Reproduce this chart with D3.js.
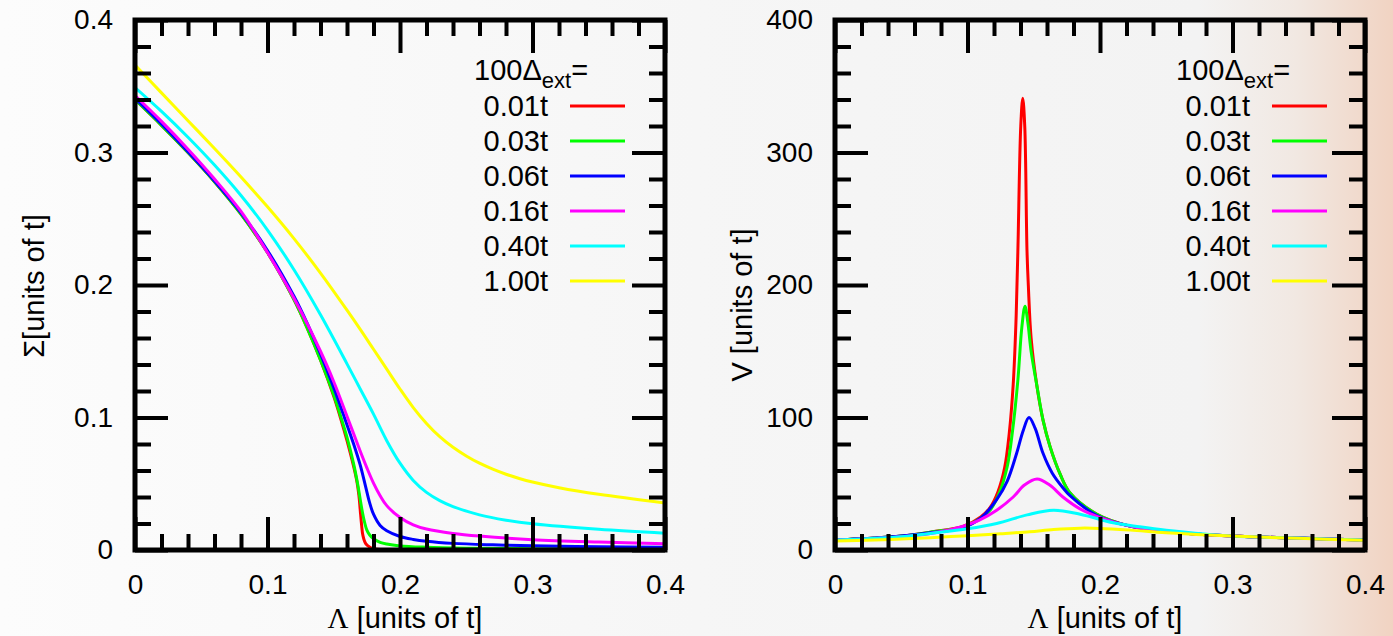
<!DOCTYPE html>
<html>
<head>
<meta charset="utf-8">
<script src="https://cdn.jsdelivr.net/npm/d3@7"></script>
<style>
  body { margin: 0; overflow: hidden; }
  text { font-family: "Liberation Sans", Arial, sans-serif; fill: #000; }
</style>
</head>
<body>
<div id="chart"></div>
<script>
// Legend entries and colours (100*Delta_ext)
var deltaLabels = ["0.01t", "0.03t", "0.06t", "0.16t", "0.40t", "1.00t"];
var lineColors = ["#ff0000", "#00ff00", "#0000ff", "#ff00ff", "#00ffff", "#ffff00"];

// Tick values
var xMajorTicks = [0, 0.1, 0.2, 0.3, 0.4];
var xMinorTicks = [0.02, 0.04, 0.06, 0.08, 0.12, 0.14, 0.16, 0.18, 0.22, 0.24, 0.26, 0.28, 0.32, 0.34, 0.36, 0.38];
var sigmaMajorTicks = [0, 0.1, 0.2, 0.3, 0.4];
var sigmaMinorTicks = [0.02, 0.04, 0.06, 0.08, 0.12, 0.14, 0.16, 0.18, 0.22, 0.24, 0.26, 0.28, 0.32, 0.34, 0.36, 0.38];
var vMajorTicks = [0, 100, 200, 300, 400];
var vMinorTicks = [20, 40, 60, 80, 120, 140, 160, 180, 220, 240, 260, 280, 320, 340, 360, 380];

// Left panel: Sigma vs Lambda, [Lambda, Sigma]
var sigmaRed = [[0,0.340],[0.02,0.3205],[0.04,0.300],[0.06,0.278],[0.08,0.2535],[0.10,0.2245],[0.12,0.189],[0.13,0.1675],[0.14,0.1435],[0.15,0.116],[0.155,0.100],[0.16,0.0825],[0.165,0.063],[0.1675,0.0515],[0.169,0.041],[0.170,0.030],[0.171,0.019],[0.172,0.011],[0.174,0.005],[0.177,0.0022],[0.18,0.0009],[0.19,0.0002],[0.2,0],[0.4,0]];
var sigmaGreen = [[0,0.340],[0.02,0.3205],[0.04,0.300],[0.06,0.278],[0.08,0.2535],[0.10,0.2245],[0.12,0.189],[0.13,0.1675],[0.14,0.1435],[0.15,0.117],[0.155,0.1015],[0.16,0.085],[0.165,0.065],[0.168,0.050],[0.171,0.032],[0.173,0.022],[0.175,0.015],[0.177,0.0115],[0.18,0.0085],[0.185,0.0058],[0.19,0.0045],[0.2,0.0031],[0.22,0.0021],[0.25,0.0014],[0.3,0.0009],[0.4,0.0005]];
var sigmaBlue = [[0,0.341],[0.02,0.3215],[0.04,0.3005],[0.06,0.2785],[0.08,0.2545],[0.10,0.226],[0.12,0.1915],[0.13,0.171],[0.14,0.148],[0.15,0.1225],[0.157,0.103],[0.165,0.080],[0.17,0.064],[0.174,0.048],[0.177,0.036],[0.18,0.027],[0.185,0.0185],[0.19,0.0145],[0.2,0.0102],[0.21,0.008],[0.22,0.0066],[0.24,0.005],[0.27,0.0039],[0.3,0.0032],[0.35,0.0025],[0.4,0.002]];
var sigmaMagenta = [[0,0.343],[0.02,0.3235],[0.04,0.3025],[0.06,0.280],[0.08,0.2555],[0.10,0.2245],[0.12,0.190],[0.14,0.150],[0.15,0.127],[0.16,0.101],[0.17,0.0745],[0.175,0.062],[0.18,0.0505],[0.185,0.041],[0.19,0.0335],[0.2,0.0245],[0.21,0.019],[0.22,0.0158],[0.24,0.0125],[0.26,0.0105],[0.3,0.0078],[0.35,0.006],[0.4,0.0047]];
var sigmaCyan = [[0,0.349],[0.02,0.331],[0.04,0.3115],[0.06,0.2905],[0.08,0.2675],[0.10,0.2415],[0.12,0.2115],[0.14,0.1775],[0.16,0.1405],[0.17,0.1215],[0.18,0.1025],[0.19,0.0825],[0.2,0.0655],[0.21,0.0525],[0.22,0.0435],[0.23,0.0373],[0.24,0.0328],[0.26,0.0265],[0.28,0.0225],[0.3,0.0198],[0.35,0.0156],[0.4,0.0127]];
var sigmaYellow = [[0,0.366],[0.02,0.345],[0.04,0.324],[0.06,0.303],[0.08,0.2815],[0.10,0.259],[0.12,0.235],[0.14,0.209],[0.16,0.181],[0.17,0.1665],[0.18,0.1515],[0.19,0.1365],[0.20,0.1215],[0.21,0.1075],[0.22,0.0955],[0.23,0.0855],[0.24,0.0775],[0.25,0.071],[0.26,0.0655],[0.27,0.061],[0.28,0.0572],[0.29,0.054],[0.30,0.0513],[0.32,0.047],[0.35,0.042],[0.4,0.0355]];

// Right panel: V vs Lambda, [Lambda, V]
var vRed = [[0,7.5],[0.03,9],[0.05,10.5],[0.072,13.5],[0.097,18],[0.11,25],[0.117,32],[0.123,44],[0.128,62],[0.1315,88],[0.1345,125],[0.1365,170],[0.138,225],[0.1402,320],[0.1417,341],[0.1432,320],[0.1449,226],[0.1459,200],[0.148,160],[0.1522,125],[0.157,98],[0.1623,78],[0.17,57],[0.1774,43],[0.1977,27],[0.2226,18],[0.25,14],[0.3,10.5],[0.35,9],[0.4,7.5]];
var vGreen = [[0,7.5],[0.03,9],[0.05,10.5],[0.072,13.5],[0.097,17.5],[0.11,24],[0.117,30],[0.124,43],[0.13,63],[0.134,90],[0.138,128],[0.141,168],[0.1434,184],[0.1455,172],[0.148,150],[0.1522,125],[0.157,98],[0.1623,78],[0.17,57],[0.1774,43],[0.1977,27],[0.2226,18],[0.25,14],[0.3,10.5],[0.35,9],[0.4,7.5]];
var vBlue = [[0,7.5],[0.03,9],[0.05,10.5],[0.072,13],[0.097,17],[0.11,24],[0.122,38],[0.13,52],[0.1371,73],[0.142,90],[0.1464,100],[0.151,92],[0.157,73],[0.164,58],[0.172,47],[0.1774,41],[0.1977,26],[0.2226,18],[0.25,14],[0.3,10.5],[0.35,9],[0.4,7.5]];
var vMagenta = [[0,7.5],[0.03,8.8],[0.05,10],[0.072,12.5],[0.09,16],[0.109,22.6],[0.122,30],[0.1345,40],[0.143,49],[0.1525,53.6],[0.162,49],[0.172,40],[0.185,31],[0.2,24.5],[0.2226,18],[0.25,14],[0.3,10.5],[0.35,9],[0.4,7.5]];
var vCyan = [[0,7.5],[0.03,8.8],[0.05,10],[0.0717,12.5],[0.1,16],[0.122,20],[0.145,26.5],[0.1648,30],[0.185,27],[0.21,20.5],[0.23,17.5],[0.25,15],[0.3,10.5],[0.35,9],[0.4,7.5]];
var vYellow = [[0,6.8],[0.03,7.6],[0.05,8.3],[0.0717,9.3],[0.1,10.8],[0.125,12.3],[0.147,13.8],[0.165,15.5],[0.185,16.5],[0.2,16.3],[0.223,15],[0.25,13],[0.3,10.5],[0.35,8.8],[0.4,7.3]];

var sigmaSeries = [sigmaRed, sigmaGreen, sigmaBlue, sigmaMagenta, sigmaCyan, sigmaYellow];
var vSeries = [vRed, vGreen, vBlue, vMagenta, vCyan, vYellow];

// SVG dimensions
var svgWidth = 1393;
var svgHeight = 636;

var svg = d3.select("#chart")
  .append("svg")
  .attr("width", svgWidth)
  .attr("height", svgHeight);

// background gradient (grey going to peach on the right)
var defs = svg.append("defs");
var grad = defs.append("linearGradient")
  .attr("id", "bg")
  .attr("x1", "0%").attr("x2", "100%")
  .attr("y1", "0%").attr("y2", "0%");
[[0, "#fcfcfc"], [0.5, "#f6f6f6"], [0.86, "#f3f3f3"], [0.93, "#f1e8e2"], [1, "#f1d3c2"]].forEach(function(s) {
  grad.append("stop").attr("offset", s[0]).attr("stop-color", s[1]);
});
svg.append("rect")
  .attr("width", svgWidth)
  .attr("height", svgHeight)
  .attr("fill", "url(#bg)");

var plotSize = 530;

function drawPanel(opts) {
  var g = svg.append("g")
    .attr("transform", `translate(${opts.left}, 20)`);

  var xScale = d3.scaleLinear().domain([0, 0.4]).range([0, plotSize]);
  var yScale = d3.scaleLinear().domain(opts.yDomain).range([plotSize, 0]);

  defs.append("clipPath")
    .attr("id", opts.id)
    .append("rect")
    .attr("width", plotSize)
    .attr("height", plotSize);

  // curves
  var line = d3.line()
    .x(d => xScale(d[0]))
    .y(d => yScale(d[1]))
    .curve(d3.curveCatmullRom.alpha(0.5));

  g.append("g")
    .attr("clip-path", `url(#${opts.id})`)
    .selectAll("path")
    .data(opts.series)
    .enter()
    .append("path")
    .attr("d", d => line(d))
    .attr("fill", "none")
    .attr("stroke", (d, i) => lineColors[i])
    .attr("stroke-width", 3);

  var fmt = d3.format("~g");

  // major/minor ticks on all four sides
  var axes = [
    [d3.axisBottom, `translate(0, ${plotSize})`, xScale, xMajorTicks, xMinorTicks, true],
    [d3.axisTop, "translate(0, 0)", xScale, xMajorTicks, xMinorTicks, false],
    [d3.axisLeft, "translate(0, 0)", yScale, opts.yMajor, opts.yMinor, true],
    [d3.axisRight, `translate(${plotSize}, 0)`, yScale, opts.yMajor, opts.yMinor, false]
  ];
  axes.forEach(function(a, k) {
    var isX = k < 2;
    var major = a[0](a[2]).tickValues(a[3]).tickSizeInner(-33).tickSizeOuter(0)
      .tickPadding(isX ? 24 : 22)
      .tickFormat(a[5] ? fmt : "");
    var ag = g.append("g").attr("transform", a[1]).call(major);
    ag.select(".domain").remove();
    ag.selectAll("line").attr("stroke", "#000").attr("stroke-width", 4);
    ag.selectAll("text").attr("font-size", 28).attr("font-family", "Liberation Sans, Arial, sans-serif");

    var minorAxis = a[0](a[2]).tickValues(a[4]).tickSizeInner(-16).tickSizeOuter(0).tickFormat("");
    var mg = g.append("g").attr("transform", a[1]).call(minorAxis);
    mg.select(".domain").remove();
    mg.selectAll("line").attr("stroke", "#000").attr("stroke-width", 4);
  });

  // frame
  g.append("rect")
    .attr("width", plotSize)
    .attr("height", plotSize)
    .attr("fill", "none")
    .attr("stroke", "#000")
    .attr("stroke-width", 5);

  // x axis label
  var xl = g.append("text")
    .attr("x", plotSize / 2 + 5)
    .attr("y", plotSize + 78)
    .attr("text-anchor", "middle")
    .attr("font-size", 29);
  xl.append("tspan").attr("font-family", "Liberation Serif, Times New Roman, serif").text("Λ");
  xl.append("tspan").text(" [units of t]");

  // y axis label
  g.append("text")
    .attr("transform", `translate(${opts.yLabelX}, ${opts.yLabelY}) rotate(-90)`)
    .attr("text-anchor", "middle")
    .attr("font-size", 29)
    .text(opts.yLabel);

  // legend
  var lg = g.append("g").attr("transform", `translate(${opts.legendX}, 0)`);
  var title = lg.append("text")
    .attr("x", -74)
    .attr("y", 60)
    .attr("font-size", 29);
  title.append("tspan").text("100Δ");
  title.append("tspan").attr("font-size", 22).attr("dy", 8).text("ext");
  title.append("tspan").attr("dy", -8).text("=");

  deltaLabels.forEach(function(lab, i) {
    var yy = 86 + 35 * i;
    lg.append("text")
      .attr("x", 0)
      .attr("y", yy + 10)
      .attr("text-anchor", "end")
      .attr("font-size", 29)
      .text(lab);
    lg.append("line")
      .attr("x1", 22).attr("x2", 77)
      .attr("y1", yy).attr("y2", yy)
      .attr("stroke", lineColors[i])
      .attr("stroke-width", 3);
  });
}

drawPanel({
  id: "clipL",
  left: 135,
  yDomain: [0, 0.4],
  yMajor: sigmaMajorTicks,
  yMinor: sigmaMinorTicks,
  series: sigmaSeries,
  yLabel: "Σ[units of t]",
  yLabelX: -91,
  yLabelY: 266,
  legendX: 413
});

drawPanel({
  id: "clipR",
  left: 835,
  yDomain: [0, 400],
  yMajor: vMajorTicks,
  yMinor: vMinorTicks,
  series: vSeries,
  yLabel: "V [units of t]",
  yLabelX: -83,
  yLabelY: 285,
  legendX: 415
});
</script>
</body>
</html>
